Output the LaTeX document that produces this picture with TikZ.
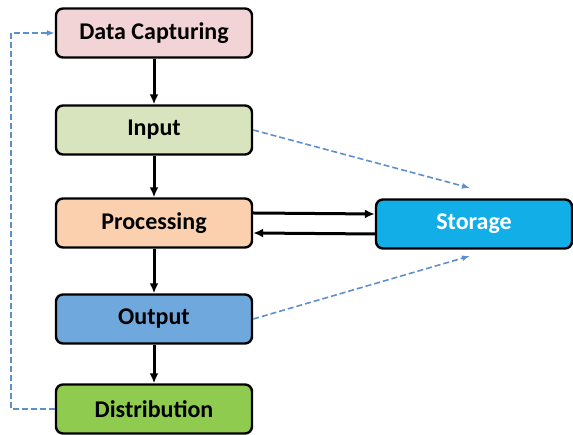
\documentclass[tikz,border=0pt]{standalone}
\usepackage{fontspec}
\usetikzlibrary{arrows.meta}
\setmainfont{Carlito}
\definecolor{capturefill}{HTML}{F2D3D6}
\definecolor{inputfill}{HTML}{D7E4BD}
\definecolor{procfill}{HTML}{FAD0AE}
\definecolor{outputfill}{HTML}{6EA8DC}
\definecolor{distfill}{HTML}{8FCB4F}
\definecolor{storefill}{HTML}{12AEE8}
\definecolor{dashblue}{HTML}{5E8FD0}
\begin{document}
\begin{tikzpicture}[auto, x=1pt, y=1pt, node distance=95pt, >={Latex[length=10pt,width=9pt]}]
        \tikzstyle{block} = [draw, rectangle, rounded corners=7pt, line width=2.4pt,
          minimum width=196pt, minimum height=49pt,
          font=\fontsize{24}{26}\selectfont\bfseries]
        \tikzstyle{flow} = [->, line width=3pt]
        \tikzstyle{link} = [-{Latex[length=8pt,width=6pt]}, dash pattern=on 6pt off 3pt, dashblue, line width=1.6pt]

        \useasboundingbox (0,0) rectangle (573,435);

        \node [block, fill=capturefill] (capture) at (154,402) {Data Capturing};
        \node [block, fill=inputfill, below of=capture, node distance=97pt] (input) {Input};
        \node [block, fill=procfill, below of=input, node distance=93pt] (proc) {Processing};
        \node [block, fill=outputfill, below of=proc, node distance=96pt] (output) {Output};
        \node [block, fill=distfill, below of=output, node distance=90pt] (dist) {Distribution};
        \node [block, fill=storefill, text=white] (store) at (474,211) {Storage};

        \coordinate (store-in) at (470,247);
        \coordinate (store-out) at (470,179);

        \draw [flow] (capture) -- (input);
        \draw [flow] (input) -- (proc);
        \draw [flow] (proc) -- (output);
        \draw [flow] (output) -- (dist);
        \draw [flow] ([yshift=10pt]proc.east) -- ([yshift=10pt]store.west);
        \draw [flow] ([yshift=-10pt]store.west) -- ([yshift=-10pt]proc.east);

        \draw [link] (input.east) -- (store-in);
        \draw [link] (output.east) -- (store-out);
        \draw [link] (dist.west) -- ++(-44,0) |- (capture.west);
    \end{tikzpicture}
\end{document}
